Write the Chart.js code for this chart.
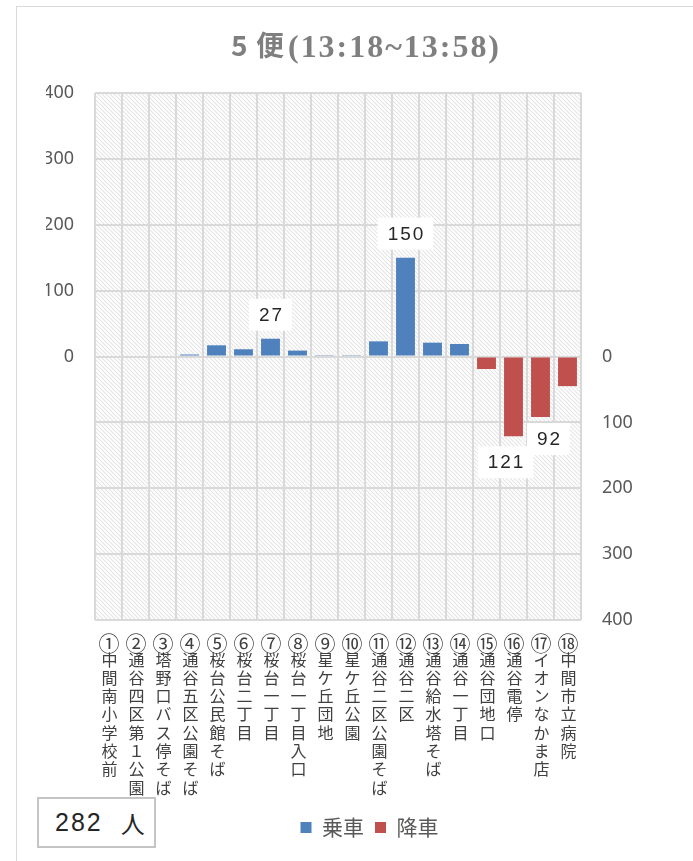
<!DOCTYPE html>
<html><head><meta charset="utf-8">
<script src="https://cdn.jsdelivr.net/npm/chart.js@4.4.1/dist/chart.umd.min.js"></script>
<style>
html,body{margin:0;padding:0;background:#fff;}
#wrap{position:relative;width:693px;height:861px;overflow:hidden;background:#fff;}
#frame{position:absolute;left:16px;top:6px;width:720px;height:900px;border-left:1.5px solid #d9d9d9;border-top:1.5px solid #d9d9d9;box-sizing:border-box;pointer-events:none;}
canvas{position:absolute;left:0;top:0;}
#total{position:absolute;left:37px;top:797px;width:119px;height:51px;box-sizing:border-box;border:2px solid #c4c4c4;background:#fff;display:flex;align-items:center;padding-left:16px;color:#262626;}
#total .num{font-family:"Liberation Sans",Arial,sans-serif;font-size:25px;letter-spacing:2px;}
#total .unit{font-family:"Noto Sans CJK JP",sans-serif;font-size:24px;margin-left:18px;}
</style></head>
<body>
<div id="wrap">
<canvas id="c" width="693" height="861"></canvas>
<div id="frame"></div>
<div id="total"><span class="num"></span><span class="unit">人</span></div>
</div>
<script>
const chartTitle = ['5', '便', '(13:18~13:58)'];
const categories = ['①中間南小学校前','②通谷四区第１公園','③塔野口バス停そば','④通谷五区公園そば','⑤桜台公民館そば','⑥桜台二丁目','⑦桜台一丁目','⑧桜台一丁目入口','⑨星ケ丘団地','⑩星ケ丘公園','⑪通谷二区公園そば','⑫通谷二区','⑬通谷給水塔そば','⑭通谷一丁目','⑮通谷団地口','⑯通谷電停','⑰イオンなかま店','⑱中間市立病院'];
const boarding  = [0,0,0,3,17,11,27,9,1,1,23,150,21,19,0,0,0,0];
const alighting = [0,0,0,0,0,0,0,0,0,0,0,0,0,0,19,121,92,45];
const labeledBoarding = [6, 11];
const labeledAlighting = [15, 16];
const axisTicks = [-400,-300,-200,-100,0,100,200,300,400];
const totalPassengers = 282;
const seriesNames = ['乗車','降車'];

document.querySelector('#total .num').textContent = totalPassengers;

// label placement styles (pixel offsets from the bar end)
const labelOffsets = {up: {dx:0, dy:-24}, down: {15:{dx:-8, dy:26}, 16:{dx:8, dy:22}}};

const hatch = {
  id:'hatch',
  beforeDraw(chart){
    const {ctx, chartArea:a} = chart;
    const p = document.createElement('canvas'); p.width = 4; p.height = 4;
    const g = p.getContext('2d');
    g.strokeStyle = '#e4e4e4'; g.lineWidth = 1.05;
    g.beginPath();
    g.moveTo(-1,-1); g.lineTo(5,5);
    g.moveTo(-1,3); g.lineTo(1,5);
    g.moveTo(3,-1); g.lineTo(5,1);
    g.stroke();
    ctx.save();
    ctx.fillStyle = '#fff'; ctx.fillRect(0,0,chart.width,chart.height);
    ctx.fillStyle = ctx.createPattern(p,'repeat');
    ctx.fillRect(a.left, a.top, a.right-a.left, a.bottom-a.top);
    ctx.restore();
  }
};

// vertical (stacked-character) category labels drawn at the x scale's tick positions
const verticalLabels = {
  id:'verticalLabels',
  afterDraw(chart){
    const ctx = chart.ctx, xs = chart.scales.x, bottom = chart.chartArea.bottom;
    ctx.save();
    ctx.fillStyle = '#404040';
    ctx.textAlign = 'center';
    ctx.textBaseline = 'middle';
    categories.forEach((label, i) => {
      const x = xs.getPixelForValue(i);
      const chars = Array.from(label);
      ctx.font = '21px "Noto Sans CJK JP"';
      ctx.fillText(chars[0], x + 0.5, bottom + 23.5);
      ctx.font = '16px "Noto Sans CJK JP"';
      for (let k = 1; k < chars.length; k++) {
        ctx.fillText(chars[k], x + 1, bottom + 39.5 + (k - 1) * 18.3);
      }
    });
    ctx.restore();
  }
};

const titlePlugin = {
  id:'mixedTitle',
  afterDraw(chart){
    const ctx = chart.ctx;
    ctx.save();
    ctx.fillStyle = '#7f7f7f';
    ctx.textBaseline = 'alphabetic';
    ctx.textAlign = 'left';
    const f1 = 'bold 28px "Noto Sans CJK JP"';
    const f2 = 'bold 32px "Liberation Serif"';
    ctx.font = f1;
    ctx.fillText(chartTitle[0], 231, 56);
    ctx.fillText(chartTitle[1], 256, 56);
    ctx.font = f2;
    ctx.letterSpacing = '0px';
    const w0 = ctx.measureText(chartTitle[2]).width;
    const n = chartTitle[2].length;
    const ls = Math.max(0, (211 - w0) / (n - 1));
    ctx.letterSpacing = ls.toFixed(2) + 'px';
    ctx.fillText(chartTitle[2], 288, 57);
    ctx.restore();
  }
};

const valueLabels = {
  id:'valueLabels',
  afterDatasetsDraw(chart){
    const ctx = chart.ctx;
    ctx.save();
    ctx.font = '19px "Liberation Sans"';
    ctx.letterSpacing = '2px';
    ctx.textAlign = 'center';
    ctx.textBaseline = 'middle';
    const draw = (txt, cx, cy) => {
      const w = ctx.measureText(txt).width + 18;
      ctx.fillStyle = '#fff';
      ctx.fillRect(cx - w/2, cy - 16, w, 32);
      ctx.fillStyle = '#262626';
      ctx.fillText(txt, cx + 1, cy + 1);
    };
    const m0 = chart.getDatasetMeta(0), m1 = chart.getDatasetMeta(1);
    labeledBoarding.forEach(i => {
      const el = m0.data[i];
      draw(String(boarding[i]), el.x + labelOffsets.up.dx, el.y + labelOffsets.up.dy);
    });
    labeledAlighting.forEach(i => {
      const el = m1.data[i];
      const o = labelOffsets.down[i] || {dx:0, dy:24};
      draw(String(alighting[i]), el.x + o.dx, el.y + o.dy);
    });
    ctx.restore();
  }
};

new Chart(document.getElementById('c'), {
  type:'bar',
  data:{
    labels: categories,
    datasets:[
      {label:seriesNames[0], data:boarding, backgroundColor:'#4f81bd', yAxisID:'y'},
      {label:seriesNames[1], data:alighting.map(v => -v), backgroundColor:'#c0504d', yAxisID:'y'}
    ]
  },
  options:{
    responsive:false, animation:false,
    layout:{padding:{left:46, right:0, top:93, bottom:13}},
    datasets:{bar:{barPercentage:0.7, categoryPercentage:1, grouped:false, borderWidth:0}},
    scales:{
      x:{
        grid:{color:'#d9d9d9', lineWidth:2, drawTicks:false, offset:true},
        border:{display:false},
        ticks:{display:false, autoSkip:false},
        afterFit(a){ a.height = 186; }
      },
      y:{
        min:axisTicks[0], max:axisTicks[axisTicks.length-1],
        afterBuildTicks(a){ a.ticks = axisTicks.map(v => ({value:v})); },
        ticks:{padding:21, color:'#595959', font:{family:'"Noto Sans"', size:18},
               callback:v => v >= 0 ? v : ''},
        grid:{color:'#d9d9d9', lineWidth:2, drawTicks:false},
        border:{display:false},
        afterFit(a){ a.width = 49; }
      },
      y2:{
        position:'right',
        min:axisTicks[0], max:axisTicks[axisTicks.length-1],
        afterBuildTicks(a){ a.ticks = axisTicks.map(v => ({value:v})); },
        ticks:{padding:21, color:'#595959', font:{family:'"Noto Sans"', size:18},
               callback:v => v <= 0 ? Math.abs(v) : ''},
        grid:{display:false, drawTicks:false},
        border:{display:false},
        afterFit(a){ a.width = 112; }
      }
    },
    plugins:{
      legend:{position:'bottom', labels:{boxWidth:11, boxHeight:11, padding:11, color:'#595959',
              font:{family:'"Noto Sans CJK JP"', size:21}}},
      tooltip:{enabled:false},
      title:{display:false}
    }
  },
  plugins:[hatch, valueLabels, verticalLabels, titlePlugin]
});
</script>
</body></html>
